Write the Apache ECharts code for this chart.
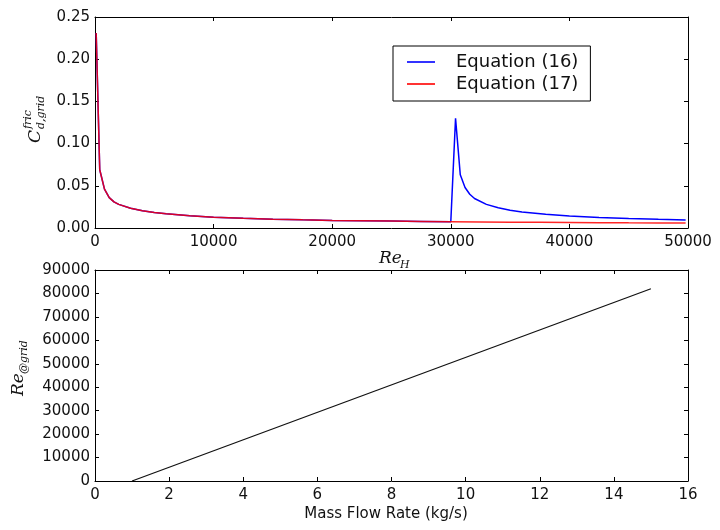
<!DOCTYPE html>
<html>
<head>
<meta charset="utf-8">
<script src="https://cdn.jsdelivr.net/npm/echarts@6/dist/echarts.min.js"></script>
<style>html,body{margin:0;padding:0;background:#fff;}#c{width:720px;height:530px;}</style>
</head>
<body>
<div id="c"></div>
<script>
// ---- Data ----
const reH17 = [100, 400, 800, 1200, 1600, 2000, 3000, 4000, 5000, 6000, 8000, 10000, 12500, 15000, 17500, 20000, 22500, 25000, 27500, 30000, 32500, 35000, 37500, 40000, 42500, 45000, 47500, 49800];
const cd17  = [0.231, 0.069, 0.046, 0.036, 0.031, 0.028, 0.0235, 0.0205, 0.0185, 0.017, 0.0145, 0.0128, 0.0115, 0.0105, 0.0097, 0.009, 0.0086, 0.0082, 0.0078, 0.0075, 0.0072, 0.0069, 0.0067, 0.0065, 0.0063, 0.0061, 0.006, 0.0059];
const reH16 = [100, 400, 800, 1200, 1600, 2000, 3000, 4000, 5000, 6000, 8000, 10000, 12500, 15000, 17500, 20000, 22500, 25000, 27500, 30000, 30400, 30800, 31200, 31600, 32000, 33000, 34000, 35000, 36000, 38000, 40000, 42500, 45000, 47500, 49800];
const cd16  = [0.231, 0.069, 0.046, 0.036, 0.031, 0.028, 0.0235, 0.0205, 0.0185, 0.017, 0.0145, 0.0128, 0.0115, 0.0105, 0.0097, 0.009, 0.0086, 0.0082, 0.0078, 0.0075, 0.130, 0.063, 0.048, 0.040, 0.035, 0.028, 0.024, 0.021, 0.019, 0.0162, 0.0142, 0.0125, 0.0112, 0.0103, 0.0096];
const massFlow = [1, 15];
const reGrid   = [0, 82000];
const seriesNames = ['Equation (16)', 'Equation (17)'];
const topXTicks = {min: 0, max: 50000, interval: 10000};
const topYTicks = {min: 0, max: 0.25, interval: 0.05};
const botXTicks = {min: 0, max: 16, interval: 2};
const botYTicks = {min: 0, max: 90000, interval: 10000};

const pairs = (xs, ys) => xs.map((x, i) => [x, ys[i]]);

const chart = echarts.init(document.getElementById('c'), null, {renderer: 'canvas'});
const F = 'DejaVu Sans';
const labelStyle = {color: '#111', fontSize: 15, fontFamily: F};
const lineCol = '#000';

function xAx(grid, t, pos, showLabel) {
  return {
    type: 'value', gridIndex: grid, position: pos, min: t.min, max: t.max, interval: t.interval,
    axisLine: {show: true, onZero: false, lineStyle: {color: lineCol, width: 1}},
    axisTick: {show: true, inside: true, length: 4, lineStyle: {color: lineCol}},
    axisLabel: Object.assign({show: showLabel, margin: 7, formatter: v => String(Math.round(v))}, labelStyle),
    splitLine: {show: false}
  };
}
function yAx(grid, t, pos, showLabel, fmt) {
  return {
    type: 'value', gridIndex: grid, position: pos, min: t.min, max: t.max, interval: t.interval,
    axisLine: {show: true, onZero: false, lineStyle: {color: lineCol, width: 1}},
    axisTick: {show: true, inside: true, length: 4, lineStyle: {color: lineCol}},
    axisLabel: Object.assign({show: showLabel, margin: 5, formatter: fmt}, labelStyle),
    splitLine: {show: false}
  };
}

const option = {
  animation: false,
  backgroundColor: '#fff',
  grid: [
    {left: 95, top: 17, width: 593, height: 211},
    {left: 95, top: 270, width: 593, height: 211}
  ],
  xAxis: [
    xAx(0, topXTicks, 'bottom', true),
    xAx(0, topXTicks, 'top', false),
    xAx(1, botXTicks, 'bottom', true),
    xAx(1, botXTicks, 'top', false)
  ],
  yAxis: [
    yAx(0, topYTicks, 'left', true, v => v.toFixed(2)),
    yAx(0, topYTicks, 'right', false),
    yAx(1, botYTicks, 'left', true, v => String(Math.round(v))),
    yAx(1, botYTicks, 'right', false)
  ],
  legend: {
    data: seriesNames,
    orient: 'vertical', left: 393, top: 46,
    padding: [7, 12, 8, 14],
    icon: 'rect',
    itemWidth: 28, itemHeight: 2, itemGap: 4,
    borderColor: '#000', borderWidth: 1, backgroundColor: '#fff',
    textStyle: {fontSize: 18, fontFamily: F, color: '#111', lineHeight: 18, padding: [0, 0, 0, 16]}
  },
  series: [
    {name: seriesNames[0], type: 'line', xAxisIndex: 0, yAxisIndex: 0, data: pairs(reH16, cd16),
     symbol: 'none', showSymbol: false, lineStyle: {color: '#0000ff', width: 1.5}, itemStyle: {color: '#3333ff'}, z: 2},
    {name: seriesNames[1], type: 'line', xAxisIndex: 0, yAxisIndex: 0, data: pairs(reH17, cd17),
     symbol: 'none', showSymbol: false, lineStyle: {color: '#ff0000', width: 1.5, opacity: 0.85}, itemStyle: {color: '#ff3333'}, z: 3},
    {name: 'line', type: 'line', xAxisIndex: 2, yAxisIndex: 2, data: pairs(massFlow, reGrid),
     symbol: 'none', showSymbol: false, lineStyle: {color: '#111', width: 1.3}, z: 2}
  ],
  graphic: [
    // top y-axis title: C^{fric}_{d,grid}
    {type: 'group', x: 36, y: 143, rotation: Math.PI / 2, children: [
      {type: 'text', x: 0, y: 0, style: {text: 'C', font: 'italic 17px "DejaVu Serif"', fill: '#111', textAlign: 'left', textVerticalAlign: 'middle'}},
      {type: 'text', x: 14, y: -8, style: {text: 'fric', font: 'italic 11px "DejaVu Serif"', fill: '#111', textAlign: 'left', textVerticalAlign: 'middle'}},
      {type: 'text', x: 14, y: 5, style: {text: 'd,grid', font: 'italic 11px "DejaVu Serif"', fill: '#111', textAlign: 'left', textVerticalAlign: 'middle'}}
    ]},
    // bottom y-axis title: Re_{@grid}
    {type: 'group', x: 19, y: 396, rotation: Math.PI / 2, children: [
      {type: 'text', x: 0, y: 0, style: {text: 'Re', font: 'italic 17px "DejaVu Serif"', fill: '#111', textAlign: 'left', textVerticalAlign: 'middle'}},
      {type: 'text', x: 22, y: 5, style: {text: '@grid', font: 'italic 11px "DejaVu Serif"', fill: '#111', textAlign: 'left', textVerticalAlign: 'middle'}}
    ]},
    // top x-axis title: Re_H
    {type: 'text', x: 379, y: 259, style: {text: 'Re', font: 'italic 17px "DejaVu Serif"', fill: '#111', textAlign: 'left', textVerticalAlign: 'middle'}},
    {type: 'text', x: 400, y: 265, style: {text: 'H', font: 'italic 11px "DejaVu Serif"', fill: '#111', textAlign: 'left', textVerticalAlign: 'middle'}},
    // bottom x-axis title
    {type: 'text', x: 386, y: 514, style: {text: 'Mass Flow Rate (kg/s)', font: '15px "DejaVu Sans"', fill: '#111', textAlign: 'center', textVerticalAlign: 'middle'}}
  ]
};
chart.setOption(option);
</script>
</body>
</html>
